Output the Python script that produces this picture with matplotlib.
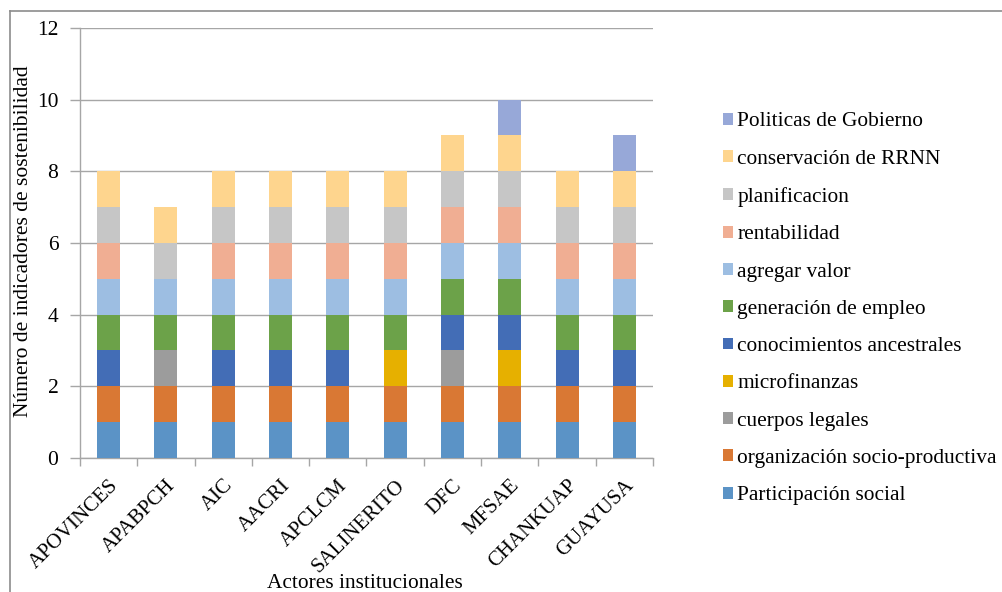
import matplotlib
matplotlib.use("Agg")
import matplotlib.pyplot as plt
import numpy as np
from matplotlib.lines import Line2D
from matplotlib.patches import Patch

plt.rcParams['font.family'] = ['Liberation Serif', 'DejaVu Serif']

actores = ["APOVINCES", "APABPCH", "AIC", "AACRI", "APCLCM",
           "SALINERITO", "DFC", "MFSAE", "CHANKUAP", "GUAYUSA"]

# Indicators present (1) or absent (0) for each institutional actor, bottom to top
participacion_social      = [1, 1, 1, 1, 1, 1, 1, 1, 1, 1]
organizacion_socioprod    = [1, 1, 1, 1, 1, 1, 1, 1, 1, 1]
cuerpos_legales           = [0, 1, 0, 0, 0, 0, 1, 0, 0, 0]
microfinanzas             = [0, 0, 0, 0, 0, 1, 0, 1, 0, 0]
conocimientos_ancestrales = [1, 0, 1, 1, 1, 0, 1, 1, 1, 1]
generacion_empleo         = [1, 1, 1, 1, 1, 1, 1, 1, 1, 1]
agregar_valor             = [1, 1, 1, 1, 1, 1, 1, 1, 1, 1]
rentabilidad              = [1, 0, 1, 1, 1, 1, 1, 1, 1, 1]
planificacion             = [1, 1, 1, 1, 1, 1, 1, 1, 1, 1]
conservacion_rrnn         = [1, 1, 1, 1, 1, 1, 1, 1, 1, 1]
politicas_gobierno        = [0, 0, 0, 0, 0, 0, 0, 1, 0, 1]

series = [
    ("Participación social", participacion_social, "#5B93C6"),
    ("organización socio-productiva", organizacion_socioprod, "#D97834"),
    ("cuerpos legales", cuerpos_legales, "#9C9C9C"),
    ("microfinanzas", microfinanzas, "#E6B000"),
    ("conocimientos ancestrales", conocimientos_ancestrales, "#436DB6"),
    ("generación de empleo", generacion_empleo, "#6CA249"),
    ("agregar valor", agregar_valor, "#9DBEE2"),
    ("rentabilidad", rentabilidad, "#F0AE93"),
    ("planificacion", planificacion, "#C6C6C6"),
    ("conservación de RRNN", conservacion_rrnn, "#FED58E"),
    ("Politicas de Gobierno", politicas_gobierno, "#97A8D8"),
]

fig = plt.figure(figsize=(10.02, 5.92), dpi=100)
ax = fig.add_axes([0.0798, 0.2264, 0.5719, 0.7263])

x = np.arange(len(actores))
bottom = np.zeros(len(actores))
for name, vals, color in series:
    vals = np.array(vals, dtype=float)
    ax.bar(x, vals, width=0.4, bottom=bottom, color=color, label=name, zorder=3)
    bottom += vals

ax.set_xlim(-0.5, len(actores) - 0.5)
ax.set_ylim(0, 12)
ax.set_yticks(np.arange(0, 13, 2))
ax.grid(axis='y', color='#A6A6A6', linewidth=1.0, zorder=0)

# category ticks sit on boundaries between bars
ax.set_xticks(np.arange(-0.5, len(actores), 1.0), minor=False)
ax.set_xticklabels([])
ax.set_xticks(x, minor=True)
ax.set_xticklabels(actores, minor=True, rotation=45, ha='right', va='top',
                   rotation_mode='anchor', fontsize=15)
ax.tick_params(axis='x', which='minor', length=0, pad=13)
ax.tick_params(axis='x', which='major', length=6, color='#A6A6A6', width=1)
ax.tick_params(axis='y', length=7, color='#A6A6A6', width=1, labelsize=15.5, pad=8.5)

for side in ('top', 'right'):
    ax.spines[side].set_visible(False)
for side in ('left', 'bottom'):
    ax.spines[side].set_color('#A6A6A6')
    ax.spines[side].set_linewidth(1.0)

ax.set_ylabel("Número de indicadores de sostenibilidad", fontsize=15.5)
ax.yaxis.set_label_coords(-0.082, 0.505)
ax.set_xlabel("Actores institucionales", fontsize=15.4)
ax.xaxis.set_label_coords(0.497, -0.271)

handles = [Patch(facecolor=c, edgecolor='none') for _, _, c in series][::-1]
labels = [n for n, _, _ in series][::-1]
fig.legend(handles, labels, loc='upper left', bbox_to_anchor=(0.7216, 0.810),
           frameon=False, fontsize=15.4, handlelength=0.47, handleheight=0.47,
           handletextpad=0.2, labelspacing=0.855, borderpad=0, borderaxespad=0)

# chart-area frame
fig.add_artist(Line2D([0.0095, 1.0], [0.9814, 0.9814], color='#8C8C8C', lw=1.2,
                      transform=fig.transFigure))
fig.add_artist(Line2D([0.0095, 0.0095], [0.0, 0.9814], color='#8C8C8C', lw=1.2,
                      transform=fig.transFigure))

fig.savefig("out.png", dpi=100)
